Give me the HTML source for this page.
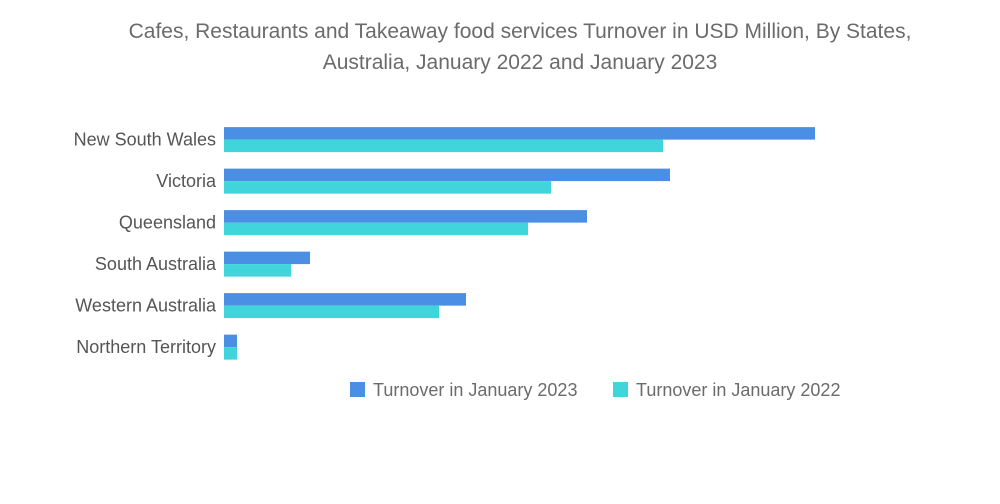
<!DOCTYPE html>
<html><head><meta charset="utf-8"><style>
body{margin:0;background:#fff;}
svg{display:block;font-family:"Liberation Sans",sans-serif;}
</style></head><body>
<svg id="chart" width="1000" height="504">
<text x="520" y="38" text-anchor="middle" font-size="21" fill="#6b6b6b">Cafes, Restaurants and Takeaway food services Turnover in USD Million, By States,</text>
<text x="520" y="69" text-anchor="middle" font-size="21" fill="#6b6b6b">Australia, January 2022 and January 2023</text>
<g id="bars"></g>
<g>
<rect x="350" y="382" width="15" height="15" fill="#4a8fe3"/>
<text x="373" y="396" font-size="18" fill="#6b6b6b">Turnover in January 2023</text>
<rect x="613" y="382" width="15" height="15" fill="#3fd5db"/>
<text x="636" y="396" font-size="18" fill="#6b6b6b">Turnover in January 2022</text>
</g>
</svg>
<script>
const categories=["New South Wales","Victoria","Queensland","South Australia","Western Australia","Northern Territory"];
const values2023=[591,446,363,86,242,13];
const values2022=[439,327,304,67,215,13];
const x0=224, scale=1.0, topY=119, step=41.5, bh=12.5;
function xScale(v){return v*scale;}
function yCenter(i){return topY+step*i+bh*1.65;}
const g=document.getElementById('bars');
const NS="http://www.w3.org/2000/svg";
categories.forEach((c,i)=>{
  const yc=yCenter(i);
  const r1=document.createElementNS(NS,'rect');
  r1.setAttribute('x',x0);r1.setAttribute('y',yc-bh);r1.setAttribute('width',xScale(values2023[i]));r1.setAttribute('height',bh);r1.setAttribute('fill','#4a8fe3');
  
  
  g.appendChild(r1);
  const r2=document.createElementNS(NS,'rect');
  r2.setAttribute('x',x0);r2.setAttribute('y',yc);r2.setAttribute('width',xScale(values2022[i]));r2.setAttribute('height',bh);r2.setAttribute('fill','#3fd5db');
  
  
  g.appendChild(r2);
  const t=document.createElementNS(NS,'text');
  t.setAttribute('x',216);t.setAttribute('y',yc+6);t.setAttribute('text-anchor','end');t.setAttribute('font-size','18');t.setAttribute('fill','#555');
  t.textContent=c;
  
  
  g.appendChild(t);
});
</script>
</body></html>
